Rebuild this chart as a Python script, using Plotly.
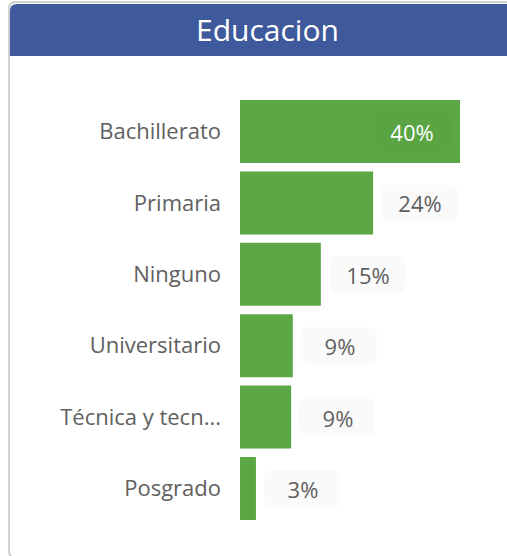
import plotly.graph_objects as go

W, H = 507, 556

categories = ["Bachillerato", "Primaria", "Ninguno", "Universitario", "Técnica y tecn...", "Posgrado"]
values = [40.0, 24.2, 14.7, 9.6, 9.3, 2.9]
labels = ["40%", "24%", "15%", "9%", "9%", "3%"]

BAR_COLOR = "#5BA745"
HEADER_COLOR = "#3F5A9C"
TEXT_COLOR = "#606060"
FONT = "Open Sans, Noto Sans, sans-serif"

def px(x):
    return x / W

def py(y):
    return 1 - y / H

def rounded(x0, x1, y0, y1, r):
    return (f"M {x0 + r},{y0} L {x1 - r},{y0} Q {x1},{y0} {x1},{y0 + r} "
            f"L {x1},{y1 - r} Q {x1},{y1} {x1 - r},{y1} L {x0 + r},{y1} "
            f"Q {x0},{y1} {x0},{y1 - r} L {x0},{y0 + r} Q {x0},{y0} {x0 + r},{y0} Z")

fig = go.Figure()
fig.add_trace(go.Bar(
    x=values, y=categories, orientation="h",
    marker=dict(color=BAR_COLOR, line=dict(width=0)),
    hoverinfo="skip",
))

annotations = []
shapes = [
    dict(type="path", xref="paper", yref="paper",
         path=(f"M {px(W+5)},{py(2)} L {px(16)},{py(2)} Q {px(9)},{py(2)} {px(9)},{py(9)} "
               f"L {px(9)},{py(551)} Q {px(9)},{py(558)} {px(16)},{py(558)} L {px(W+5)},{py(558)}"),
         line=dict(color="#cfcfcf", width=2), fillcolor="rgba(0,0,0,0)", layer="below"),
    dict(type="path", xref="paper", yref="paper",
         path=(f"M {px(W+5)},{py(4)} L {px(17)},{py(4)} Q {px(10)},{py(4)} {px(10)},{py(11)} "
               f"L {px(10)},{py(56)} L {px(W+5)},{py(56)} Z"),
         line=dict(width=0), fillcolor=HEADER_COLOR, layer="below"),
]

for i, (c, v, t) in enumerate(zip(categories, values, labels)):
    inside = i == 0
    shift = -9 if inside else 8
    annotations.append(dict(
        x=v, y=c, xref="x", yref="y", text=t, showarrow=False,
        xanchor="right" if inside else "left",
        xshift=shift, width=76, height=37, borderpad=0,
        font=dict(family=FONT, size=22, color="white" if inside else TEXT_COLOR),
    ))
    bx0 = shift - 76 if inside else shift
    shapes.append(dict(
        type="path", xref="x", yref="y",
        xsizemode="pixel", ysizemode="pixel",
        xanchor=v, yanchor=c,
        path=rounded(bx0, bx0 + 76, -18.5, 18.5, 8),
        line=dict(width=0),
        fillcolor="rgba(0,0,0,0.015)" if inside else "#fafafa",
        layer="above" if inside else "below",
    ))

annotations.append(dict(
    x=px(267), y=py(29), xref="paper", yref="paper", text="Educacion",
    showarrow=False, xanchor="center", yanchor="middle",
    font=dict(family=FONT, size=30, color="white"),
))

pitch = 71.4
band_top = 100 - (pitch - 63) / 2
band_bot = band_top + 6 * pitch

fig.update_layout(
    width=W, height=H,
    margin=dict(l=0, r=0, t=0, b=0),
    paper_bgcolor="white", plot_bgcolor="white",
    showlegend=False,
    bargap=(pitch - 63) / pitch,
    xaxis=dict(domain=[px(240), 1], range=[0, (W - 240) / 5.5],
               visible=False, fixedrange=True),
    yaxis=dict(domain=[py(band_bot), py(band_top)],
               categoryorder="array", categoryarray=categories[::-1],
               showgrid=False, zeroline=False, showline=False, ticks="",
               ticklabelstandoff=18,
               tickfont=dict(family=FONT, size=22, color=TEXT_COLOR),
               fixedrange=True),
    annotations=annotations,
    shapes=shapes,
)

fig.write_html(
    "out.html",
    config={"displayModeBar": False},
    post_script="document.body.style.margin='0';document.body.style.overflow='hidden';",
)
